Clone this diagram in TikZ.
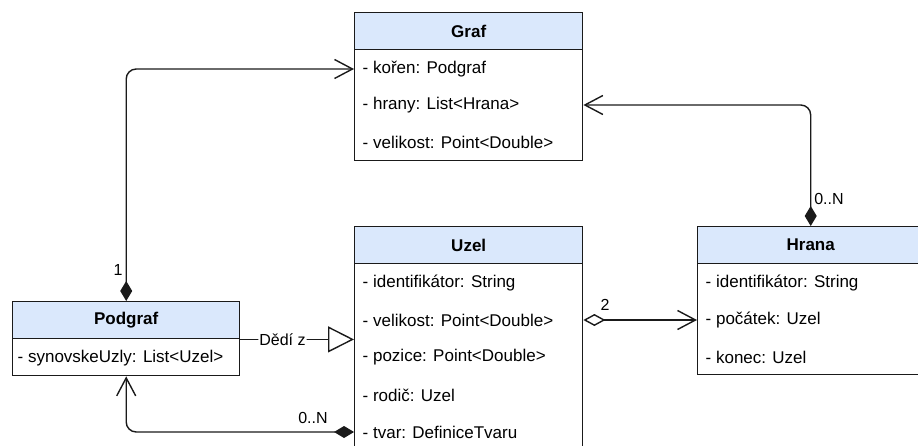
\documentclass[tikz,border=0pt]{standalone}
\usepackage{fontspec}
\setmainfont{Liberation Sans}
\usetikzlibrary{arrows.meta}
\definecolor{hdr}{HTML}{DAE8FC}
\definecolor{edgec}{HTML}{1A1A1A}
\begin{document}
\begin{tikzpicture}[x=1pt,y=-1pt,line width=1.4pt,
  hdrbox/.style={draw=edgec,fill=hdr,minimum height=37pt,inner sep=0pt,anchor=north west,font=\bfseries\fontsize{17}{20}\selectfont},
  bodybox/.style={draw=edgec,fill=white,inner sep=0pt,anchor=north west},
  attr/.style={anchor=west,inner sep=0pt,font=\fontsize{17}{20}\selectfont},
  lbl/.style={inner sep=1pt,font=\fontsize{16}{19}\selectfont},
  conn/.style={draw=edgec,rounded corners=10pt},
  fdia/.tip={Diamond[length=20pt,width=12pt,fill=edgec]},
  odia/.tip={Diamond[open,length=22pt,width=12pt,fill=white]},
  barb/.tip={Straight Barb[length=18pt,width=19pt]},
  tri/.tip={Triangle[open,length=26pt,width=26pt,fill=white]}]
\useasboundingbox (0,0) rectangle (918,446);
\clip (0,0) rectangle (918,446);
% Graf
\node[hdrbox,minimum width=228pt] (gh) at (354,12) {Graf};
\node[bodybox,minimum width=228pt,minimum height=111pt] (gb) at (354,49) {};
\node[attr] (g1) at (362,69) {- kořen: Podgraf};
\node[attr] (g2) at (362,105) {- hrany: List<Hrana>};
\node[attr] (g3) at (362,142) {- velikost: Point<Double>};
% Uzel
\node[hdrbox,minimum width=228pt] (uh) at (354,226) {Uzel};
\node[bodybox,minimum width=228pt,minimum height=200pt] (ub) at (354,263) {};
\node[attr] (u1) at (362,283) {- identifikátor: String};
\node[attr] (u2) at (362,320) {- velikost: Point<Double>};
\node[attr] (u3) at (362,357) {- pozice: Point<Double>};
\node[attr] (u4) at (362,395) {- rodič: Uzel};
\node[attr] (u5) at (362,432) {- tvar: DefiniceTvaru};
% Hrana
\node[hdrbox,minimum width=226pt] (hh) at (697,226) {Hrana};
\node[bodybox,minimum width=226pt,minimum height=111pt] (hb) at (697,263) {};
\node[attr] (h1) at (705,283) {- identifikátor: String};
\node[attr] (h2) at (705,320) {- počátek: Uzel};
\node[attr] (h3) at (705,357) {- konec: Uzel};
% Podgraf
\node[hdrbox,minimum width=227pt] (ph) at (12,301) {Podgraf};
\node[bodybox,minimum width=227pt,minimum height=37pt] (pb) at (12,338) {};
\node[attr] (p1) at (17,358) {- synovskeUzly: List<Uzel>};
% connectors
\draw[conn,fdia-barb] (ph.north) |- (gb.west |- g1);
\draw[conn,fdia-barb] (hh.north) |- (gb.east |- g2);
\draw[conn,-tri] (ph.south east) -- node[lbl,fill=white,pos=0.37] (dz) {Dědí z} (ph.south east -| ub.west);
\draw[conn,fdia-barb] (ub.west |- u5) -| (pb.south);
\draw[conn,odia-barb] (ub.east |- u2) -- (hb.west |- u2);
% multiplicities
\node[lbl] (m1) at (118,270) {1};
\node[lbl] (m2) at (829,199) {0..N};
\node[lbl] (m3) at (313,418) {0..N};
\node[lbl] (m4) at (605,305) {2};
\end{tikzpicture}
\end{document}
